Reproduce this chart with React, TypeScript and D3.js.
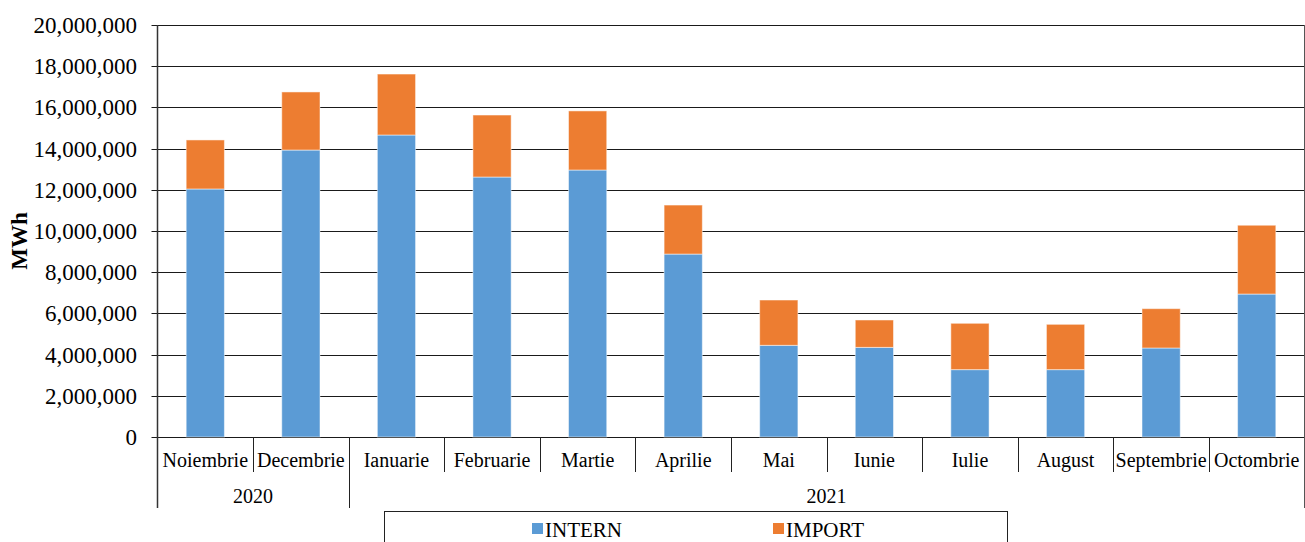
import React from "react";
import * as d3 from "d3";

const months = ["Noiembrie", "Decembrie", "Ianuarie", "Februarie", "Martie", "Aprilie", "Mai", "Iunie", "Iulie", "August", "Septembrie", "Octombrie"];
const years = ["2020", "2021"];
const yearSpans = [2, 10];
const intern = [12040000, 13930000, 14660000, 12620000, 12960000, 8880000, 4450000, 4350000, 3270000, 3270000, 4320000, 6940000];
const importV = [2380000, 2820000, 2960000, 3010000, 2870000, 2380000, 2200000, 1330000, 2250000, 2200000, 1910000, 3340000];
const yTicks = [0, 2000000, 4000000, 6000000, 8000000, 10000000, 12000000, 14000000, 16000000, 18000000, 20000000];
const seriesNames = ["INTERN", "IMPORT"];
const colors = ["#5B9BD5", "#ED7D31"];

const W = 1305, H = 542;
const left = 157.5, right = 1304.5, top = 25, bottom = 437;
const font = "Liberation Serif";

export default function App() {
  const x = d3.scaleBand<string>().domain(months).range([left, right]).paddingInner(0).paddingOuter(0);
  const y = d3.scaleLinear().domain([0, 20000000]).range([bottom, top]);
  const data = months.map((m, i) => ({ m, INTERN: intern[i], IMPORT: importV[i] }));
  const stack = d3.stack<any>().keys(seriesNames)(data);
  const bw = x.bandwidth() * 0.4;
  const fmt = d3.format(",");

  const boundaries = months.map((m) => x(m) as number).concat([right]);
  let cum = 0;
  const yearStarts = yearSpans.map((s) => { const st = cum; cum += s; return st; });

  return (
    <svg width={W} height={H} style={{ position: "absolute", left: 0, top: 0, background: "#fff" }}>
      {yTicks.map((t) => (
        <g key={t}>
          <line x1={left - 6} x2={right} y1={Math.round(y(t)) + 0.5} y2={Math.round(y(t)) + 0.5} stroke="#1a1a1a" strokeWidth={1} />
          <text x={137} y={y(t)} dy="0.35em" textAnchor="end" fontFamily={font} fontSize={23} fill="#000">{fmt(t)}</text>
        </g>
      ))}
      {stack.map((s, si) => (
        <g key={s.key}>
          {s.map((d, i) => (
            <rect key={i}
              x={(x(months[i]) as number) + x.bandwidth() / 2 - bw / 2}
              y={y(d[1])}
              width={bw}
              height={y(d[0]) - y(d[1])}
              fill={colors[si]}
              stroke="#ffffff" strokeOpacity={0.5} strokeWidth={1} />
          ))}
        </g>
      ))}
      <line x1={left} x2={left} y1={top} y2={508} stroke="#333" strokeWidth={1.5} />
      <line x1={right} x2={right} y1={top} y2={508} stroke="#555" strokeWidth={1} />
      {boundaries.slice(1, -1).map((bx, i) => {
        const isYear = yearStarts.includes(i + 1);
        return <line key={i} x1={Math.round(bx) + 0.5} x2={Math.round(bx) + 0.5} y1={bottom} y2={isYear ? 508 : 472} stroke="#222" strokeWidth={1} />;
      })}
      {months.map((m) => (
        <text key={m} x={(x(m) as number) + x.bandwidth() / 2} y={467} textAnchor="middle" fontFamily={font} fontSize={20} fill="#000">{m}</text>
      ))}
      {years.map((yr, i) => {
        const x0 = boundaries[yearStarts[i]];
        const x1 = boundaries[yearStarts[i] + yearSpans[i]];
        return <text key={yr} x={(x0 + x1) / 2} y={503} textAnchor="middle" fontFamily={font} fontSize={20} fill="#000">{yr}</text>;
      })}
      <text transform={`translate(27,${(top + bottom) / 2 + 10}) rotate(-90)`} textAnchor="middle" fontFamily={font} fontSize={23} fontWeight="bold" fill="#000">MWh</text>
      <rect x={384.5} y={511.5} width={623} height={40} fill="#fff" stroke="#222" strokeWidth={1} />
      {seriesNames.map((n, i) => (
        <g key={n} transform={`translate(${[532, 773][i]},0)`}>
          <rect x={0} y={523} width={11} height={11} fill={colors[i]} />
          <text x={13} y={537} fontFamily={font} fontSize={21} fill="#000">{n}</text>
        </g>
      ))}
    </svg>
  );
}
